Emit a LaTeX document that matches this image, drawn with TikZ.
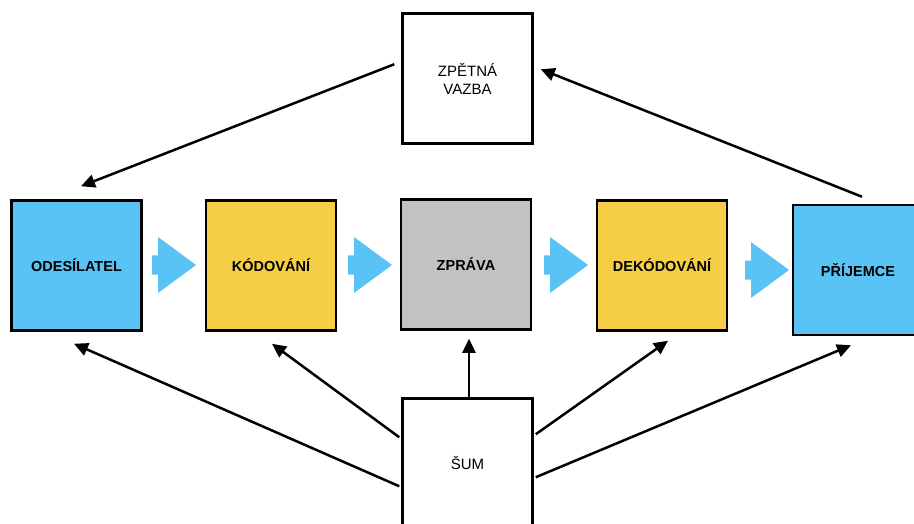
\documentclass[tikz,border=0pt]{standalone}
\usepackage{fontspec}
\setmainfont{Liberation Sans}
\usetikzlibrary{arrows.meta,calc}
\definecolor{skyb}{HTML}{5AC3F5}
\definecolor{yel}{HTML}{F5CE45}
\definecolor{gry}{HTML}{C2C2C2}
\tikzset{
  box/.style={draw=black, line width=2.5pt, minimum width=130pt, minimum height=130pt, inner sep=0pt, align=center},
  boldtxt/.style={font=\fontsize{14.5}{17}\selectfont\bfseries},
  regtxt/.style={font=\fontsize{15}{18}\selectfont},
  arr/.style={line width=2.5pt, -{Triangle[length=14pt,width=13pt]}},
  pics/chev/.style={code={
    \fill[skyb] (-44,-9.5) -- (-38,-9.5) -- (-38,-28) -- (0,0) -- (-38,28) -- (-38,9.5) -- (-44,9.5) -- cycle;
  }}
}
\begin{document}
\begin{tikzpicture}[x=1pt,y=-1pt]
\useasboundingbox (0,0) rectangle (914,524);
% boxes
\node[box, fill=skyb, boldtxt] (ode) at (76.5,265.5) {ODESÍLATEL};
\node[box, fill=yel, boldtxt] (kod) at (271,265.5) {KÓDOVÁNÍ};
\node[box, fill=gry, boldtxt] (zpr) at (466,264.5) {ZPRÁVA};
\node[box, fill=yel, boldtxt] (dek) at (662,265.5) {DEKÓDOVÁNÍ};
\node[box, fill=skyb, boldtxt] (pri) at (858,270) {PŘÍJEMCE};
\node[box, fill=white, regtxt] (zpv) at (467.5,78.5) {ZPĚTNÁ\\VAZBA};
\node[box, fill=white, regtxt] (sum) at (467.5,463.5) {ŠUM};
% chevrons
\pic at (196,265) {chev};
\pic at (392,265) {chev};
\pic at (588,265) {chev};
\pic at (789,270) {chev};
% feedback arrows
\draw[arr] ($(zpv.north west)+(-7,52)$) -- ($(ode.north)+(4.5,-13)$);
\draw[arr] ($(pri.north)+(4,-7)$) -- ($(zpv.north east)+(7,57)$);
% noise arrows
\draw[arr] ($(sum.north west)+(-2,89)$) -- ($(ode.south)+(-2.5,12)$);
\draw[arr] ($(sum.north west)+(-2,40)$) -- ($(kod.south)+(1,12)$);
\draw[arr] ($(sum.north)+(1.5,0)$) -- ($(zpr.south)+(3,8)$);
\draw[arr] ($(sum.north east)+(2,37)$) -- ($(dek.south)+(6,9)$);
\draw[arr] ($(sum.north east)+(2,80)$) -- ($(pri.south)+(-7,9)$);
\end{tikzpicture}
\end{document}
